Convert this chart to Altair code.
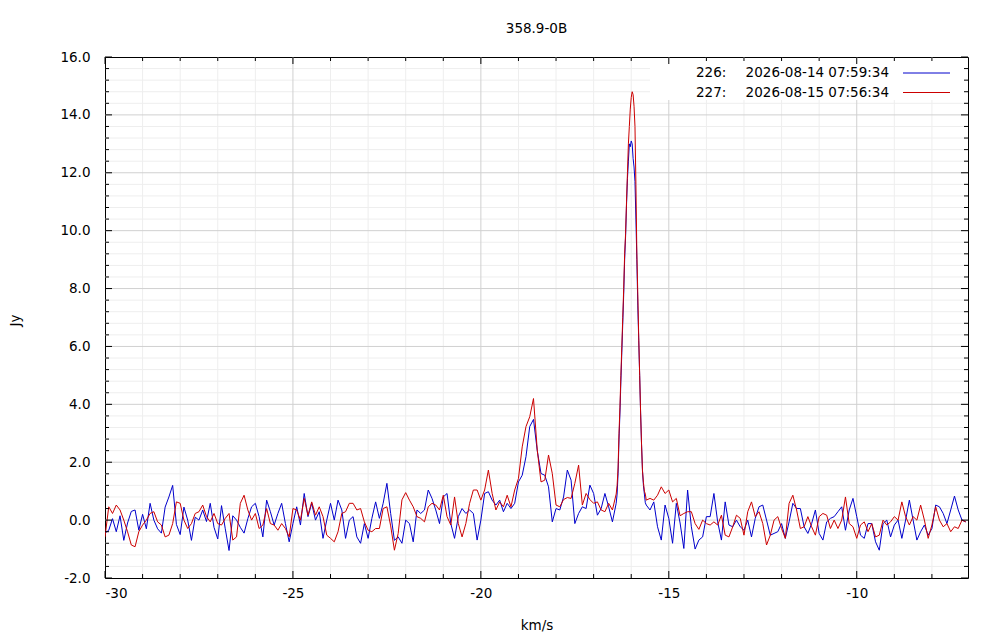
import altair as alt
import numpy as np
import pandas as pd

TITLE = "358.9-0B"
X_TITLE = "km/s"
Y_TITLE = "Jy"
SCANS = ["226", "227"]
DATES = ["2026-08-14 07:59:34", "2026-08-15 07:56:34"]
COLORS = ["#0000cc", "#cc0000"]

X_DOMAIN = [-30.0, -7.04]
Y_DOMAIN = [-2.0, 16.0]
X_MAJOR = [-30, -25, -20, -15, -10]
Y_MAJOR = [-2, 0, 2, 4, 6, 8, 10, 12, 14, 16]
X_MINOR_STEP = 1.0
Y_MINOR_STEP = 0.4

# read-off segments: (start velocity, step)
SEG_LO = (-30.0, 0.1)
SEG_CORE = (-16.375, 0.025)
SEG_HI = (-15.6, 0.1)

blue_lo = [
    -0.45, -0.35, 0.05, -0.4, 0.15, -0.7, -0.1, 0.3, 0.35, -0.35, 0.2, -0.3, 0.58, 0.0, -0.3, -0.45,
    0.45, 0.8, 1.2, -0.15, -0.5, 0.45, 0.0, -0.7, 0.1, 0.0, 0.35, -0.05, 0.58, -0.25, -0.65, 0.5,
    -0.3, -1.05, 0.15, 0.0, -0.25, -0.45, 0.05,
    0.46, 0.58, 0.12, -0.58, 0.69, 0.29, -0.17, 0.23, 0.58, -0.12, -0.75, -0.12, 0.46, -0.17, 0.92,
    0.12, 0.58, 0.0, 0.29, -0.63, 0.0, 0.58, 0.0, 0.69, 0.35, -0.63, 0.0, 0.12, -0.58, -0.8, -0.12,
    -0.63, 0.06, 0.63, 0.06, 0.58, 1.27, 0.23,
    -0.7, -0.58, -0.8, 0.0, -0.12, -0.75, 0.35, 0.23, 0.35, 1.04, 0.75, 0.35, -0.12, 0.8, 0.92, -0.12,
    -0.63, 0.12, 0.4, 0.23, 0.35, 0.23, -0.69, 0.0, 0.92, 0.98, 0.69, 0.52, 0.69, 0.29, 0.58, 0.4,
    0.58, 1.32, 1.55, 2.19, 3.23, 3.48, 2.4,
    1.61, 1.55, 1.15, -0.06, 0.4, 0.35, 0.8, 1.73, 1.38, -0.12, 0.23, 0.46, 0.4, 1.21, 0.92, 0.17,
    0.4, 0.92, 0.46, -0.06, 0.58,
]
blue_core = [
    0.9, 1.6, 2.8, 3.7, 4.8, 5.8, 6.8, 7.8, 9.0, 9.8, 10.9, 11.8, 12.4, 13.0, 12.9, 13.1,
    13.0, 12.5, 12.2, 11.7, 10.4, 9.0, 7.4, 6.2, 5.0, 3.7, 2.6, 1.7, 1.2, 0.9, 0.6,
]
blue_hi = [
    0.52, 0.35, 0.63, -0.23, -0.69, 0.52, 0.06, -0.8, 0.58, -0.1,
    -0.98, 1.04, -0.23, -1.0, -0.69, -0.58, 0.12, 0.12, 0.92, -0.06, -0.69, 0.63, -0.17, -0.23,
    0.0, -0.23, -0.35, 0.0, -0.58, 0.06, 0.46, 0.52, 0.0, -0.52, -0.46, -0.4, -0.12, -0.63,
    -0.06, 0.58, 0.4, 0.4, -0.23, -0.46, -0.12, 0.35, -0.46, -0.69,
    -0.06, 0.06, 0.12, 0.29, 0.46, -0.35, 0.35, 0.75, 0.12, -0.52, -0.63, -0.12, -0.12, -0.75,
    -1.04, -0.12, 0.0, -0.58, -0.17, 0.0, -0.63, 0.0, 0.69, 0.0, -0.69, -0.4, -0.17, -0.52,
    -0.29, 0.52, 0.46, 0.23, -0.12, 0.35, 0.83, 0.35, 0.0, -0.06,
]

red_lo = [
    -0.58, 0.46, 0.23, 0.52, 0.35, 0.0, -0.4, -0.86, -0.92, -0.4, -0.17, 0.0, 0.23, 0.29, -0.06,
    -0.17, -0.58, -0.52, -0.12, 0.63, 0.58, 0.0, -0.29, -0.12, 0.23, 0.29, 0.52, 0.12, -0.06, 0.23,
    -0.12, -0.17, 0.06, 0.23, -0.69, -0.58, 0.58, 0.86, 0.35,
    0.0, 0.23, -0.29, -0.17, 0.4, -0.12, -0.17, -0.35, -0.12, -0.29, -0.58, 0.4, 0.35, 0.0, 0.75,
    0.17, 0.63, 0.17, 0.46, 0.12, -0.52, -0.63, -0.75, -0.4, 0.23, 0.29, 0.58, 0.58, 0.35, 0.4,
    -0.06, -0.35, -0.4, -0.29, -0.29, 0.4, 0.46, -0.2,
    -1.04, -0.46, 0.7, 0.95, 0.69, 0.46, 0.12, 0.06, -0.06, 0.46, 0.58, 0.52, 0.35, 0.86, 0.12,
    -0.17, 0.8, -0.12, -0.58, -0.12, 0.58, 1.04, 1.04, 0.69, 1.04, 1.73, 0.92, 0.35, 0.63, 0.46,
    0.86, 0.46, 1.04, 1.44, 2.53, 3.23, 3.57, 4.2, 2.42,
    1.32, 1.38, 2.25, 1.61, 0.52, 0.46, 0.71, 0.78, 0.75, 1.27, 1.9, 0.52, 0.92, 0.71, 0.58, 0.63,
    0.35, 0.29, 0.58, 0.35, 0.9,
]
red_core = [
    1.2, 1.8, 3.0, 3.9, 5.0, 6.0, 7.0, 8.0, 9.2, 9.9, 11.0, 12.0, 13.0, 13.6, 14.2, 14.6,
    14.8, 14.7, 14.3, 13.6, 11.6, 9.2, 7.8, 6.3, 5.0, 3.7, 2.6, 1.7, 1.3, 1.0, 0.9,
]
red_hi = [
    0.69, 0.75, 0.69, 0.86, 1.15, 0.92, 1.04, 0.63, 0.75, 0.15,
    0.23, 0.29, 0.29, -0.12, -0.32, 0.0, -0.12, -0.17, -0.06, -0.17, 0.17, -0.52, -0.58, -0.23,
    0.17, 0.06, -0.52, 0.29, 0.63, 0.12, 0.29, -0.12, -0.86, -0.52, 0.0, 0.12, -0.29, -0.63,
    0.58, 0.86, 0.35, -0.29, -0.23, 0.12, -0.23, -0.52, 0.12, 0.23,
    0.17, -0.29, 0.0, -0.29, 0.0, 0.8, -0.12, -0.23, -0.63, -0.17, -0.06, -0.4, -0.12, -0.58,
    -0.52, 0.0, -0.17, -0.06, 0.12, 0.0, 0.63, 0.12, -0.17, 0.12, 0.0, 0.52, 0.0, -0.63,
    -0.17, 0.46, 0.0, -0.23, -0.12, -0.4, -0.23, -0.29, 0.0, -0.06,
]


def seg_vel(n, seg):
    return np.round(seg[0] + seg[1] * np.arange(n), 4)


def series_df(lo, core, hi, name):
    v = np.concatenate([seg_vel(len(lo), SEG_LO), seg_vel(len(core), SEG_CORE),
                        seg_vel(len(hi), SEG_HI)])
    return pd.DataFrame({"v": v, "jy": lo + core + hi, "scan": name})


blue_df = series_df(blue_lo, blue_core, blue_hi, SCANS[0])
red_df = series_df(red_lo, red_core, red_hi, SCANS[1])

x_minor = [float(x) for x in np.arange(-29.0, -7.5, X_MINOR_STEP) if round(x) % 5 != 0]
y_minor = [round(float(y), 2) for y in np.arange(-1.6, 16.0, Y_MINOR_STEP)
           if abs(round(y, 2) / 2 - round(round(y, 2) / 2)) > 1e-6]
x_grid = [x for x in X_MAJOR if X_DOMAIN[0] < x < X_DOMAIN[1]]
y_grid = [y for y in Y_MAJOR if Y_DOMAIN[0] < y < Y_DOMAIN[1]]

W, H = 863, 521
FONT = "DejaVu Sans"
FS = 13.5
MAJOR_GRID = "#d0d0d0"
MINOR_GRID = "#eeeeee"

xs = alt.Scale(domain=X_DOMAIN, nice=False, zero=False)
ys = alt.Scale(domain=Y_DOMAIN, nice=False, zero=False)

x_axis = alt.Axis(
    values=X_MAJOR, labelExpr="replace(format(datum.value, 'd'), '\u2212', '-')",
    grid=False, ticks=False, tickSize=0, domain=False, labelPadding=15,
    labelBaseline="middle", labelFont=FONT, labelFontSize=FS, labelColor="black",
    title=X_TITLE, titleFont=FONT, titleFontSize=FS, titleFontWeight="normal",
    titleColor="black", titleY=47, titleBaseline="middle")
y_axis = alt.Axis(
    values=Y_MAJOR, labelExpr="replace(format(datum.value, '.1f'), '\u2212', '-')",
    grid=False, ticks=False, tickSize=0, domain=False, labelPadding=15,
    labelAlign="right", labelBaseline="middle", labelFont=FONT, labelFontSize=FS,
    labelColor="black", title=Y_TITLE, titleFont=FONT, titleFontSize=FS,
    titleFontWeight="normal", titleColor="black", titleX=-90, titleY=263,
    titleAngle=270, titleBaseline="middle")


def X(field):
    return alt.X(field, scale=xs, axis=x_axis)


def Y(field):
    return alt.Y(field, scale=ys, axis=y_axis)


x_minor_grid = alt.Chart(pd.DataFrame({"g": x_minor})).mark_rule(
    color=MINOR_GRID, strokeWidth=1).encode(x=X("g:Q"))
y_minor_grid = alt.Chart(pd.DataFrame({"g": y_minor})).mark_rule(
    color=MINOR_GRID, strokeWidth=1).encode(y=Y("g:Q"))
x_major_grid = alt.Chart(pd.DataFrame({"g": x_grid})).mark_rule(
    color=MAJOR_GRID, strokeWidth=1).encode(x=X("g:Q"))
y_major_grid = alt.Chart(pd.DataFrame({"g": y_grid})).mark_rule(
    color=MAJOR_GRID, strokeWidth=1).encode(y=Y("g:Q"))

blue_line = alt.Chart(blue_df).mark_line(color=COLORS[0], strokeWidth=1, clip=True).encode(
    x=X("v:Q"), y=Y("jy:Q"))
red_line = alt.Chart(red_df).mark_line(color=COLORS[1], strokeWidth=1, clip=True).encode(
    x=X("v:Q"), y=Y("jy:Q"))

one = pd.DataFrame({"k": [0]})
legend_bg = alt.Chart(one).mark_rect(color="white").encode(
    x=alt.value(545), x2=alt.value(W - 1), y=alt.value(1), y2=alt.value(43))

legend_layers = []
for i, (scan, date, col) in enumerate(zip(SCANS, DATES, COLORS)):
    ry = 16 + i * 19.5
    legend_layers.append(alt.Chart(one).mark_text(
        align="left", baseline="middle", font=FONT, fontSize=FS, color="black").encode(
        x=alt.value(591), y=alt.value(ry), text=alt.value(f"{scan}:")))
    legend_layers.append(alt.Chart(one).mark_text(
        align="right", baseline="middle", font=FONT, fontSize=FS, color="black").encode(
        x=alt.value(784), y=alt.value(ry), text=alt.value(date)))
    legend_layers.append(alt.Chart(one).mark_rule(color=col, strokeWidth=1).encode(
        x=alt.value(798), x2=alt.value(845), y=alt.value(ry)))


def xticks(vals, length):
    d = pd.DataFrame({"g": vals})
    base = alt.Chart(d).mark_rule(color="black", strokeWidth=1)
    return [
        base.encode(x=X("g:Q"), y=alt.value(H - length), y2=alt.value(H)),
        base.encode(x=X("g:Q"), y=alt.value(0), y2=alt.value(length)),
    ]


def yticks(vals, length):
    d = pd.DataFrame({"g": vals})
    base = alt.Chart(d).mark_rule(color="black", strokeWidth=1)
    return [
        base.encode(y=Y("g:Q"), x=alt.value(0), x2=alt.value(length)),
        base.encode(y=Y("g:Q"), x=alt.value(W - length), x2=alt.value(W)),
    ]


tick_layers = xticks(x_minor, 4) + xticks(X_MAJOR, 7) + yticks(y_minor, 4) + yticks(Y_MAJOR, 7)

chart = alt.layer(
    x_minor_grid, y_minor_grid, x_major_grid, y_major_grid,
    blue_line, red_line, legend_bg, *legend_layers, *tick_layers,
).properties(
    width=W, height=H,
    title=alt.TitleParams(TITLE, font=FONT, fontSize=FS, fontWeight="normal", color="black",
                          anchor="middle", offset=8, baseline="middle"),
    autosize=alt.AutoSizeParams(type="none"),
    padding={"left": 97, "top": 49, "right": 16, "bottom": 56},
    background="white",
).configure_view(stroke="black", strokeWidth=1)

chart.save("out.html", embed_options={"renderer": "svg", "actions": False})
